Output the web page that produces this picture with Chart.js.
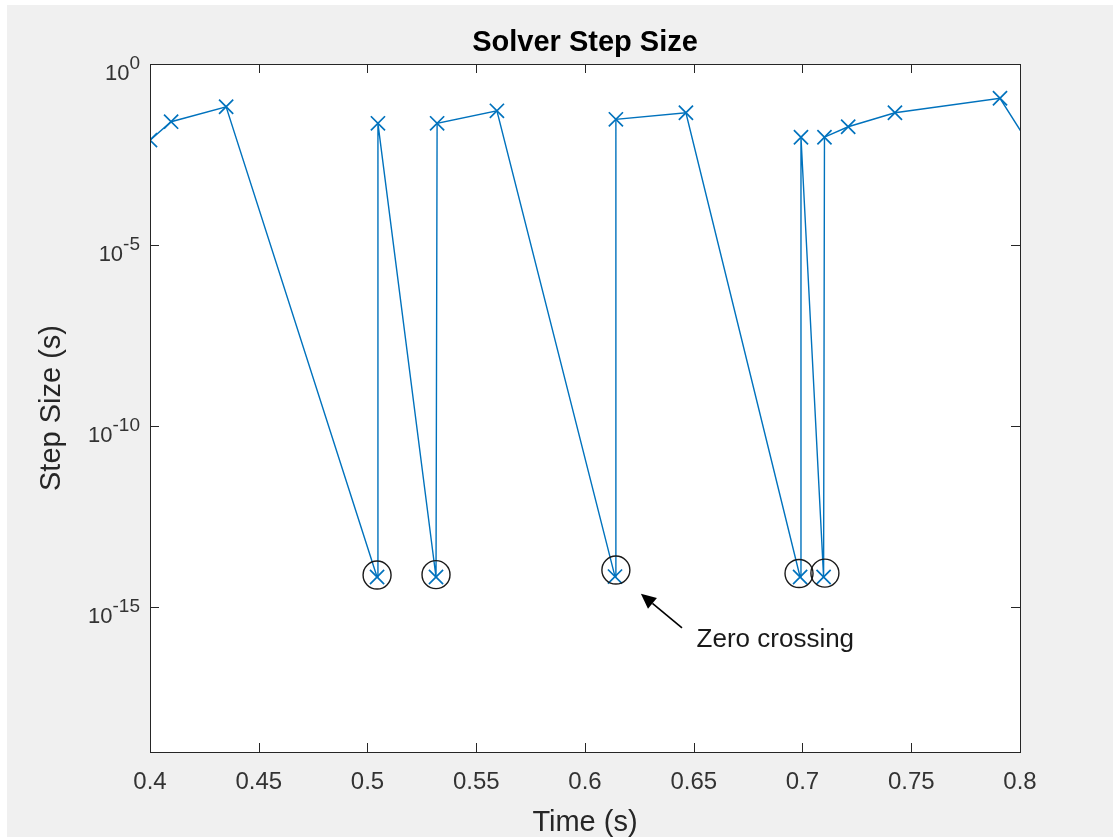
<!DOCTYPE html>
<html>
<head>
<meta charset="utf-8">
<script src="https://cdn.jsdelivr.net/npm/chart.js@4.4.1/dist/chart.umd.min.js"></script>
<style>
  html, body { margin: 0; padding: 0; background: #ffffff; }
  #wrap { width: 1113px; height: 837px; }
</style>
</head>
<body>
<div id="wrap"><canvas id="stepChart" width="1113" height="837"></canvas></div>
<script>
// --- data ---
const timeVals = [0.400, 0.4097, 0.435, 0.5044, 0.5048, 0.5315, 0.532, 0.5595, 0.6138, 0.6142,
                  0.6464, 0.6989, 0.6993, 0.7097, 0.7101, 0.721, 0.7425, 0.7908, 0.806];
const stepVals = [7.9e-3, 2.55e-2, 6.6e-2, 6.8e-15, 2.3e-2, 6.8e-15, 2.3e-2, 5.1e-2, 7.0e-15, 2.97e-2,
                  4.5e-2, 6.8e-15, 9.5e-3, 6.8e-15, 9.5e-3, 1.85e-2, 4.5e-2, 1.13e-1, 4.1e-3];

// zero crossing circles
const zcTimes = [0.5044, 0.5315, 0.6142, 0.6984, 0.7103];
const zcVals = [7.7e-15, 7.9e-15, 1.06e-14, 8.5e-15, 8.7e-15];

// annotation (arrow tail -> head, text baseline) in data units
const arrowFrom = { x: 0.6446, y: Math.pow(10, -15.57) };
const arrowTo = { x: 0.6257, y: Math.pow(10, -14.63) };
const noteAt = { x: 0.6513, y: Math.pow(10, -16.1) };
const noteText = 'Zero crossing';

const xTickVals = [0.4, 0.45, 0.5, 0.55, 0.6, 0.65, 0.7, 0.75, 0.8];
const yTickVals = [1e-15, 1e-10, 1e-5, 1];
const yTickExp = { '-15': '-15', '-10': '-10', '-5': '-5', '0': '0' };

const titleText = 'Solver Step Size';
const fontFam = '"Liberation Sans", Arial, sans-serif';
const axisColor = '#262626';
const lineBlue = '#0072BD';

// figure background, box, inward ticks, y labels, title, annotation
const matlabLook = {
  id: 'matlabLook',
  beforeDraw(chart) {
    const ctx = chart.ctx;
    ctx.save();
    ctx.fillStyle = '#f0f0f0';
    ctx.fillRect(7, 5, chart.width - 7, chart.height - 5);
    const a = chart.chartArea;
    ctx.fillStyle = '#ffffff';
    ctx.fillRect(a.left, a.top, a.right - a.left, a.bottom - a.top);
    ctx.restore();
  },
  afterDraw(chart) {
    const ctx = chart.ctx;
    const a = chart.chartArea;
    const xs = chart.scales.x, ys = chart.scales.y;
    const tl = 9;
    ctx.save();
    ctx.strokeStyle = axisColor;
    ctx.lineWidth = 1;
    ctx.beginPath();
    xs.ticks.forEach(t => {
      const px = Math.round(xs.getPixelForValue(t.value)) + 0.5;
      ctx.moveTo(px, a.bottom); ctx.lineTo(px, a.bottom - tl);
      ctx.moveTo(px, a.top); ctx.lineTo(px, a.top + tl);
    });
    ys.ticks.forEach(t => {
      const py = Math.round(ys.getPixelForValue(t.value)) + 0.5;
      ctx.moveTo(a.left, py); ctx.lineTo(a.left + tl, py);
      ctx.moveTo(a.right, py); ctx.lineTo(a.right - tl, py);
    });
    ctx.stroke();
    ctx.strokeRect(Math.round(a.left) + 0.5, Math.round(a.top) + 0.5,
                   Math.round(a.right - a.left), Math.round(a.bottom - a.top));

    // y tick labels: 10 with raised exponent
    ctx.fillStyle = '#333333';
    ctx.textBaseline = 'alphabetic';
    ys.ticks.forEach(t => {
      const py = ys.getPixelForValue(t.value);
      const ex = yTickExp[String(Math.round(Math.log10(t.value)))];
      const rightX = a.left - 10;
      ctx.font = '19px ' + fontFam;
      ctx.textAlign = 'right';
      ctx.fillText(ex, rightX, py + 5);
      const ew = ctx.measureText(ex).width;
      ctx.font = '22px ' + fontFam;
      ctx.fillText('10', rightX - ew, py + 16);
    });

    // title
    ctx.fillStyle = '#000000';
    ctx.font = 'bold 29px ' + fontFam;
    ctx.textAlign = 'center';
    ctx.textBaseline = 'middle';
    ctx.fillText(titleText, (a.left + a.right) / 2, 43);

    // arrow
    const x0 = xs.getPixelForValue(arrowFrom.x), y0 = ys.getPixelForValue(arrowFrom.y);
    const x1 = xs.getPixelForValue(arrowTo.x), y1 = ys.getPixelForValue(arrowTo.y);
    const ang = Math.atan2(y1 - y0, x1 - x0);
    const headLen = 15, headW = 7;
    const bx = x1 - headLen * Math.cos(ang), by = y1 - headLen * Math.sin(ang);
    ctx.strokeStyle = '#000000';
    ctx.lineWidth = 1.6;
    ctx.beginPath();
    ctx.moveTo(x0, y0); ctx.lineTo(bx, by);
    ctx.stroke();
    ctx.fillStyle = '#000000';
    ctx.beginPath();
    ctx.moveTo(x1, y1);
    ctx.lineTo(bx + headW * Math.sin(ang), by - headW * Math.cos(ang));
    ctx.lineTo(bx - headW * Math.sin(ang), by + headW * Math.cos(ang));
    ctx.closePath();
    ctx.fill();

    // note text
    ctx.fillStyle = '#1a1a1a';
    ctx.font = '26px ' + fontFam;
    ctx.textAlign = 'left';
    ctx.textBaseline = 'alphabetic';
    ctx.fillText(noteText, xs.getPixelForValue(noteAt.x), ys.getPixelForValue(noteAt.y));
    ctx.restore();
  }
};

const ctx = document.getElementById('stepChart').getContext('2d');
const stepChart = new Chart(ctx, {
  type: 'scatter',
  data: {
    datasets: [
      {
        label: 'Step size',
        data: timeVals.map((t, i) => ({ x: t, y: stepVals[i] })),
        showLine: true,
        borderColor: lineBlue,
        backgroundColor: lineBlue,
        borderWidth: 1.4,
        pointStyle: 'crossRot',
        pointRadius: 10,
        pointBorderWidth: 1.7,
        pointBorderColor: lineBlue,
        order: 2
      },
      {
        label: 'Zero crossings',
        data: zcTimes.map((t, i) => ({ x: t, y: zcVals[i] })),
        showLine: false,
        pointStyle: 'circle',
        pointRadius: 14,
        pointBorderWidth: 1.4,
        pointBorderColor: '#1a1a1a',
        pointBackgroundColor: 'rgba(0,0,0,0)',
        order: 1
      }
    ]
  },
  options: {
    responsive: false,
    animation: false,
    layout: { padding: { top: 64, right: 93, left: 0, bottom: 0 } },
    plugins: {
      legend: { display: false },
      tooltip: { enabled: false },
      title: { display: false }
    },
    scales: {
      x: {
        type: 'linear',
        min: 0.4,
        max: 0.8,
        afterBuildTicks: scale => { scale.ticks = xTickVals.map(v => ({ value: v })); },
        afterFit: scale => { scale.height = 85; },
        grid: { display: false, drawTicks: false },
        border: { display: false },
        ticks: {
          padding: 16,
          color: '#333333',
          font: { family: fontFam, size: 24 },
          callback: v => String(Number(v.toFixed(2)))
        },
        title: {
          display: true,
          text: 'Time (s)',
          color: '#262626',
          padding: { top: 0, bottom: 0 },
          font: { family: fontFam, size: 29, lineHeight: 1 }
        }
      },
      y: {
        type: 'logarithmic',
        min: 1e-19,
        max: 1,
        afterBuildTicks: scale => { scale.ticks = yTickVals.map(v => ({ value: v })); },
        afterFit: scale => { scale.width = 150; },
        grid: { display: false, drawTicks: false },
        border: { display: false },
        ticks: { display: false },
        title: {
          display: true,
          text: 'Step Size (s)',
          color: '#262626',
          padding: { top: 37, bottom: 37 },
          font: { family: fontFam, size: 29, lineHeight: 1 }
        }
      }
    }
  },
  plugins: [matlabLook]
});
</script>
</body>
</html>
